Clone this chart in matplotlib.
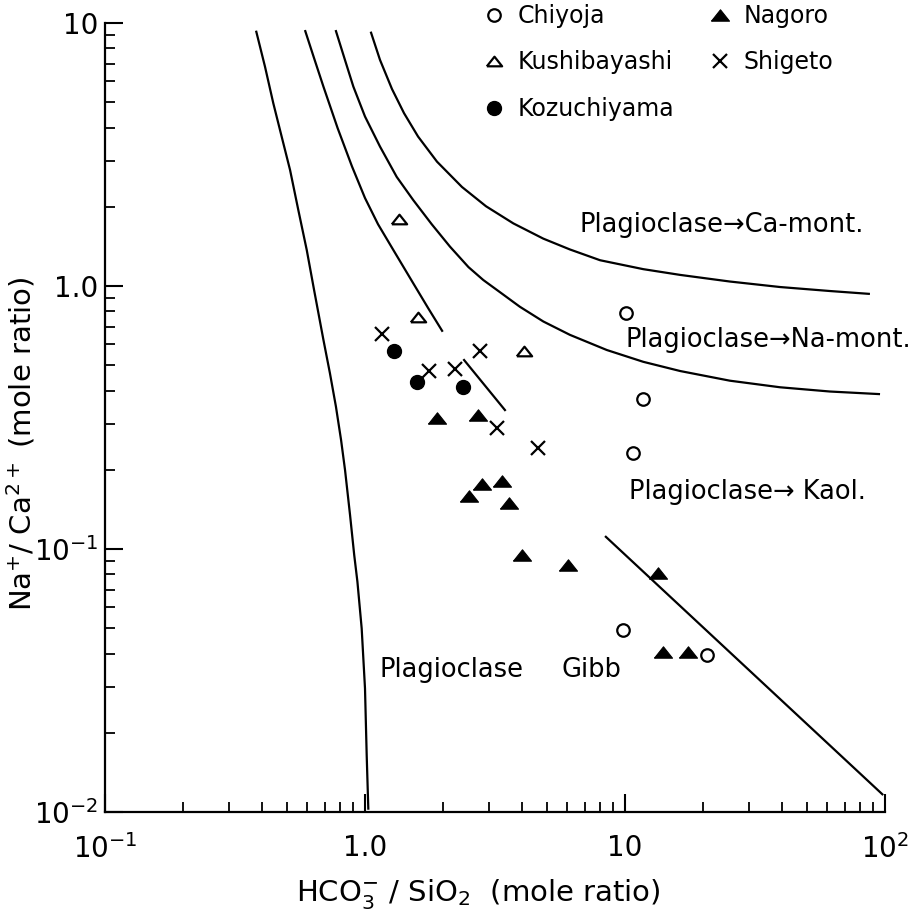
import matplotlib
matplotlib.use("Agg")
import matplotlib.pyplot as plt
from matplotlib.ticker import FixedLocator, LogLocator, NullFormatter

# sample points (HCO3-/SiO2, Na+/Ca2+)
chiyoja_x = [10.1, 11.76, 10.7, 9.8, 20.6]
chiyoja_y = [0.792, 0.371, 0.231, 0.0491, 0.0395]
kushi_x = [1.352, 1.595, 4.10]
kushi_y = [1.80, 0.760, 0.567]
kozu_x = [1.293, 1.589, 2.376]
kozu_y = [0.567, 0.433, 0.412]
nagoro_x = [1.897, 2.73, 2.81, 3.36, 2.52, 3.59, 4.01, 6.02, 13.36, 14.0, 17.5]
nagoro_y = [0.314, 0.3236, 0.1766, 0.182, 0.159, 0.149, 0.0948, 0.0869, 0.0808, 0.0407, 0.0407]
shigeto_x = [1.159, 1.762, 2.226, 2.77, 3.21, 4.61]
shigeto_y = [0.655, 0.476, 0.482, 0.567, 0.289, 0.2415]

# stability boundaries
gibb_x = [0.381, 0.4125, 0.444, 0.478, 0.515, 0.554, 0.597, 0.637, 0.692, 0.733, 0.773, 0.809,
          0.838, 0.876, 0.909, 0.935, 0.971, 1.0, 1.015, 1.03]
gibb_y = [9.35, 6.82, 4.95, 3.70, 2.76, 1.945, 1.37, 0.966, 0.624, 0.466, 0.348, 0.2597,
          0.1995, 0.1346, 0.0948, 0.0751, 0.0499, 0.0295, 0.0165, 0.0102]
b2_x = [0.5875, 0.637, 0.692, 0.785, 0.891, 1.0, 1.122, 1.285, 1.534, 1.752, 1.99]
b2_y = [9.4, 7.35, 5.73, 3.98, 2.85, 2.16, 1.718, 1.371, 1.023, 0.822, 0.670]
namont_x = [0.771, 0.838, 0.902, 1.0, 1.142, 1.324, 1.534, 1.805, 2.123, 2.50, 2.85, 3.35,
            3.94, 4.85, 6.14, 8.51, 11.75, 16.3, 25.3, 39.5, 61.4, 95.7]
namont_y = [9.4, 7.22, 5.73, 4.41, 3.39, 2.60, 2.12, 1.718, 1.411, 1.180, 1.054, 0.938,
            0.834, 0.733, 0.652, 0.571, 0.515, 0.475, 0.4365, 0.412, 0.397, 0.388]
camont_x = [1.052, 1.142, 1.270, 1.413, 1.600, 1.892, 2.36, 2.92, 3.72, 4.85, 6.14, 8.02,
            11.75, 16.3, 25.3, 39.5, 61.4, 87.5]
camont_y = [9.27, 7.24, 5.61, 4.54, 3.70, 2.97, 2.38, 2.01, 1.730, 1.514, 1.377, 1.253,
            1.159, 1.102, 1.040, 0.991, 0.957, 0.933]
short_x = [2.39, 3.475]
short_y = [0.527, 0.335]
kaol_x = [8.38, 98.4]
kaol_y = [0.112, 0.0116]

x_ticks = [0.1, 1.0, 10, 100]
x_labels = ["$10^{-1}$", "1.0", "10", "$10^{2}$"]
y_ticks = [0.01, 0.1, 1.0, 10]
y_labels = ["$10^{-2}$", "$10^{-1}$", "1.0", "10"]

tri = [(-1, -0.63), (1, -0.63), (0, 0.63), (-1, -0.63)]

fig = plt.figure(figsize=(9.15, 9.18), dpi=100)
ax = fig.add_axes([105 / 915, 106 / 918, 780 / 915, 789 / 918])
ax.set_xscale("log")
ax.set_yscale("log")
ax.set_xlim(0.1, 100)
ax.set_ylim(0.01, 10)

lw = 1.6
for cx, cy in [(gibb_x, gibb_y), (b2_x, b2_y), (namont_x, namont_y),
               (camont_x, camont_y), (short_x, short_y), (kaol_x, kaol_y)]:
    ax.plot(cx, cy, color="black", lw=lw, solid_capstyle="butt", solid_joinstyle="round")

ax.plot(chiyoja_x, chiyoja_y, ls="none", marker="o", ms=9, mfc="white", mec="black", mew=1.6, label="Chiyoja")
ax.plot(kushi_x, kushi_y, ls="none", marker=tri, ms=11, mfc="white", mec="black", mew=1.6, label="Kushibayashi")
ax.plot(kozu_x, kozu_y, ls="none", marker="o", ms=10, mfc="black", mec="black", label="Kozuchiyama")
ax.plot(nagoro_x, nagoro_y, ls="none", marker=tri, ms=13, mfc="black", mec="black", mew=0.8, label="Nagoro")
ax.plot(shigeto_x, shigeto_y, ls="none", marker="x", ms=9.5, mec="black", mew=1.6, label="Shigeto")

fs_note = 18.5
ax.text(6.71, 1.71, "Plagioclase\u2192Ca-mont.", fontsize=fs_note, va="center", ha="left")
ax.text(10.0, 0.624, "Plagioclase\u2192Na-mont.", fontsize=fs_note, va="center", ha="left")
ax.text(10.36, 0.1644, "Plagioclase\u2192 Kaol.", fontsize=fs_note, va="center", ha="left")
ax.text(1.142, 0.0347, "Plagioclase", fontsize=fs_note, va="center", ha="left")
ax.text(5.68, 0.0347, "Gibb", fontsize=fs_note, va="center", ha="left")

leg = ax.legend(loc="upper left", bbox_to_anchor=(485 / 915, 1 - 4 / 918), bbox_transform=fig.transFigure,
                ncol=2, frameon=False, fontsize=17, handlelength=0.8, handletextpad=0.6,
                columnspacing=1.5, labelspacing=0.95, borderpad=0, borderaxespad=0, numpoints=1)

for side in ["top", "right"]:
    ax.spines[side].set_visible(False)
for side in ["left", "bottom"]:
    ax.spines[side].set_linewidth(1.6)

ax.xaxis.set_major_locator(FixedLocator(x_ticks))
ax.yaxis.set_major_locator(FixedLocator(y_ticks))
ax.set_xticklabels(x_labels)
ax.set_yticklabels(y_labels)
ax.xaxis.set_minor_locator(LogLocator(base=10, subs=range(2, 10)))
ax.yaxis.set_minor_locator(LogLocator(base=10, subs=range(2, 10)))
ax.xaxis.set_minor_formatter(NullFormatter())
ax.yaxis.set_minor_formatter(NullFormatter())
ax.tick_params(which="major", direction="in", length=13, width=1.5, labelsize=20)
ax.tick_params(which="minor", direction="in", length=7, width=1.3)
ax.tick_params(axis="x", which="major", pad=16)
ax.tick_params(axis="y", which="major", pad=5)

ax.set_xlabel("HCO$_3^{-}$ / SiO$_2$  (mole ratio)", fontsize=21)
ax.xaxis.set_label_coords(0.479, -0.082)
ax.set_ylabel("Na$^{+}$/ Ca$^{2+}$ (mole ratio)", fontsize=21)
ax.yaxis.set_label_coords(-0.087, 0.466)

fig.savefig("out.png", dpi=100)
